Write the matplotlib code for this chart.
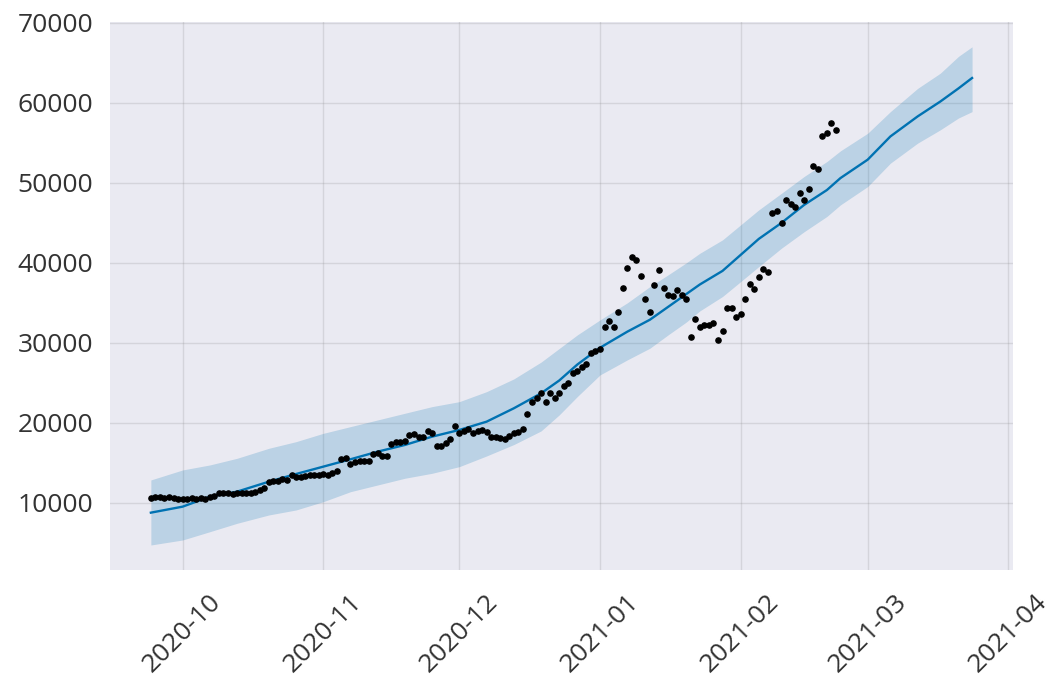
import matplotlib
matplotlib.use('Agg')
import matplotlib.pyplot as plt
import matplotlib.dates as mdates
import pandas as pd

# observed daily values, 2020-09-24 .. 2021-02-22
obs = [
    10600, 10700, 10700, 10600, 10700, 10600, 10500, 10500, 10500, 10600,
    10500, 10600, 10500, 10800, 10900, 11200, 11300, 11200, 11100, 11200,
    11300, 11200, 11300, 11400, 11600, 11900, 12600, 12800, 12800, 13000,
    12900, 13500, 13300, 13300, 13400, 13500, 13500, 13500, 13600, 13500,
    13700, 14000, 15500, 15600, 14900, 15100, 15200, 15200, 15300, 16100,
    16200, 15900, 15900, 17400, 17600, 17600, 17700, 18500, 18600, 18200,
    18300, 19000, 18700, 17100, 17100, 17500, 18000, 19600, 18700, 19000,
    19300, 18800, 19000, 19100, 18900, 18300, 18200, 18100, 18000, 18400,
    18700, 18900, 19300, 21100, 22600, 23100, 23700, 22600, 23700, 23100,
    23700, 24600, 25000, 26300, 26500, 27000, 27400, 28700, 29000, 29300,
    32000, 32700, 32000, 33900, 36900, 39400, 40700, 40300, 38400, 35500,
    33900, 37200, 39100, 36900, 36000, 35800, 36600, 36000, 35500, 30700,
    33000, 32000, 32200, 32300, 32500, 30400, 31500, 34400, 34300, 33200,
    33600, 35500, 37400, 36700, 38200, 39200, 38900, 46200, 46500, 45000,
    47900, 47300, 47000, 48700, 47900, 49200, 52100, 51700, 55900, 56200,
    57500, 56600,
]
obs_start = '2020-09-24'

# forecast read at selected dates
fc_dates = ['2020-09-24', '2020-10-01', '2020-10-07', '2020-10-13', '2020-10-20',
            '2020-10-26', '2020-11-01', '2020-11-07', '2020-11-13', '2020-11-19',
            '2020-11-25', '2020-12-01', '2020-12-07', '2020-12-13', '2020-12-19',
            '2020-12-23', '2020-12-27', '2021-01-01', '2021-01-07', '2021-01-12',
            '2021-01-16', '2021-01-20', '2021-01-23', '2021-01-28', '2021-02-01',
            '2021-02-05', '2021-02-10', '2021-02-15', '2021-02-20', '2021-02-23',
            '2021-03-01', '2021-03-06', '2021-03-12', '2021-03-17', '2021-03-21',
            '2021-03-24']
yhat = [8790, 9540, 10790, 11415, 12660, 13620, 14540, 15460, 16415, 17250,
        18290, 19125, 20160, 21830, 23700, 25300, 27300, 29400, 31400, 32900,
        34500, 36100, 37300, 39000, 41000, 43000, 45000, 47250, 49100, 50600,
        52900, 55800, 58300, 60160, 61800, 63100]
yhat_upper = [12875, 14125, 14750, 15580, 16830, 17660, 18700, 19540, 20375, 21210,
              22040, 22660, 23910, 25500, 27600, 29300, 31000, 32875, 35000, 37040,
              38500, 40000, 41200, 42875, 44750, 46625, 48700, 50800, 52660, 54000,
              56200, 58900, 61800, 63700, 65800, 67000]
yhat_lower = [4750, 5375, 6410, 7460, 8500, 9125, 10160, 11410, 12250, 13090,
              13710, 14540, 15875, 17300, 19000, 21000, 23300, 26000, 27875, 29340,
              31000, 32600, 34000, 35800, 37660, 39540, 41840, 43900, 45800, 47250,
              49540, 52460, 54960, 56625, 58100, 58900]

ds_obs = pd.date_range(obs_start, periods=len(obs), freq='D')
ds_fc = pd.to_datetime(fc_dates)

plt.rcParams['font.family'] = ['Open Sans', 'DejaVu Sans']

fig = plt.figure(figsize=(10.54, 6.81), dpi=100, facecolor='white')
ax = fig.add_axes([0.1044, 0.163, 0.8566, 0.805])
ax.set_facecolor('#EAEAF2')
for s in ax.spines.values():
    s.set_visible(False)

ax.fill_between(ds_fc, yhat_lower, yhat_upper, color='#0072B2', alpha=0.2, lw=0)
ax.plot(ds_fc, yhat, ls='-', c='#0072B2', lw=1.7)
ax.plot(ds_obs, obs, 'k.', ms=7.5)

ax.set_xlim(pd.Timestamp('2020-09-15'), pd.Timestamp('2021-04-02'))
ax.set_ylim(1625, 70125)
ax.set_yticks([10000, 20000, 30000, 40000, 50000, 60000, 70000])
ax.xaxis.set_major_locator(mdates.MonthLocator())
ax.xaxis.set_major_formatter(mdates.DateFormatter('%Y-%m'))
ax.grid(True, which='major', c='gray', ls='-', lw=1, alpha=0.2)
ax.set_axisbelow(True)
ax.tick_params(axis='both', length=0, labelsize=19, labelcolor='#333333')
ax.tick_params(axis='x', pad=14)
ax.tick_params(axis='y', pad=12)
plt.setp(ax.get_xticklabels(), rotation=45)

fig.savefig('out.png', dpi=100, facecolor='white')
